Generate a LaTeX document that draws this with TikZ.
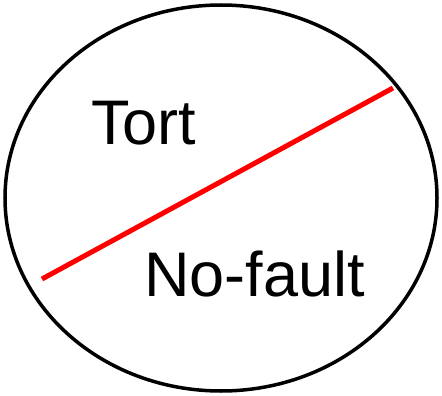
\documentclass[tikz,border=0pt]{standalone}
\usepackage{fontspec}
\setmainfont{Liberation Sans}
\usepackage{xcolor}
\usepackage{tikz}
\usetikzlibrary{shapes.geometric}

\begin{document}
\begin{tikzpicture}[x=1pt,y=-1pt,
    region/.style={anchor=base west,inner sep=0pt,font=\fontsize{63}{72}\selectfont},
    divide/.style={red,line width=5pt}]
       \useasboundingbox (0,0) rectangle (442,396);
       \node[ellipse,draw,line width=3.5pt,minimum width=432pt,minimum height=386pt,inner sep=0pt] (oval) at (221,198) {};
       \node[region] (tort) at (91,144) {Tort};
       \node[region] (nofault) at (144,296) {No-fault};
       \coordinate (lo) at (42,279);
       \coordinate (hi) at (393,88);

       \draw[divide] (lo) -- (hi);
    \end{tikzpicture}
\end{document}
